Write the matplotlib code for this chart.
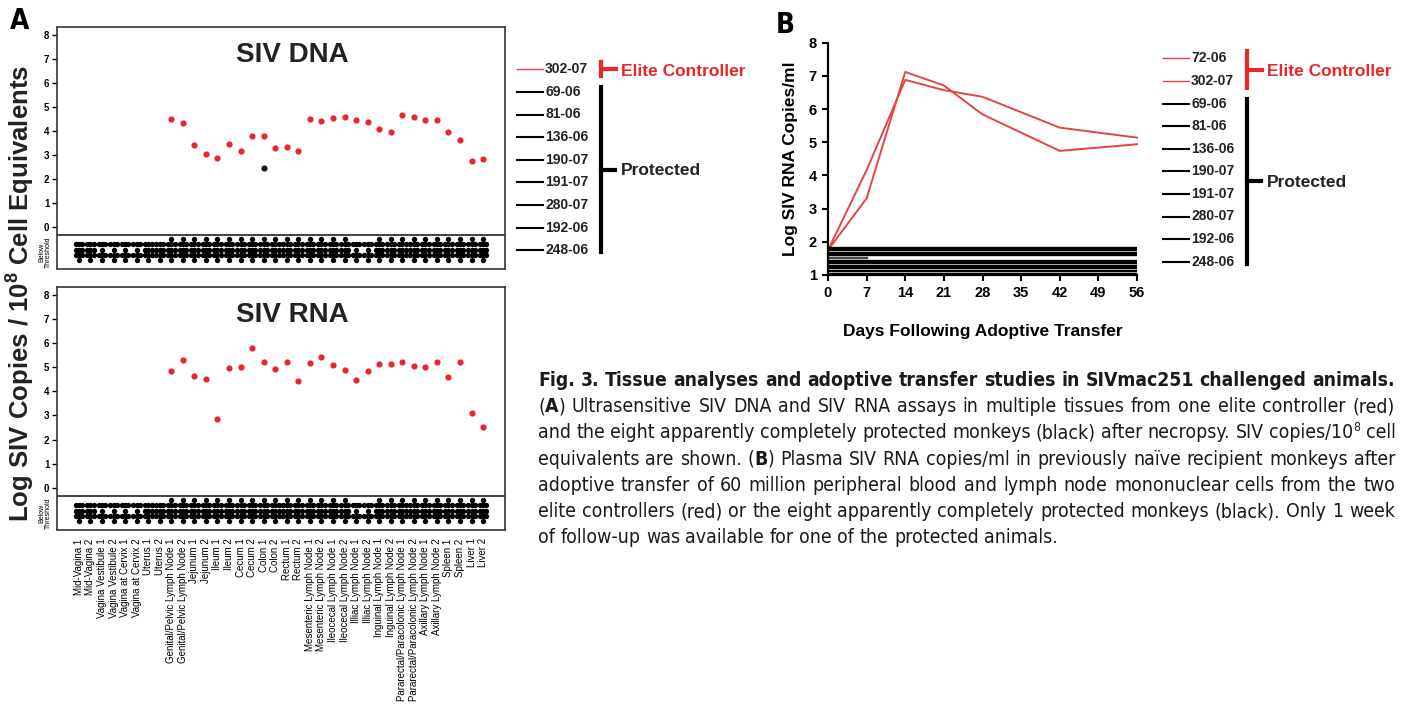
import numpy as np
import matplotlib
matplotlib.use("Agg")
import matplotlib.pyplot as plt
from matplotlib import font_manager
from matplotlib.lines import Line2D
from matplotlib.transforms import Affine2D

# ---- data -------------------------------------------------------------
tissues = ["Mid-Vagina 1", "Mid-Vagina 2", "Vagina Vestibule 1", "Vagina Vestibule 2",
           "Vagina at Cervix 1", "Vagina at Cervix 2", "Uterus 1", "Uterus 2",
           "Genital/Pelvic Lymph Node 1", "Genital/Pelvic Lymph Node 2",
           "Jejunum 1", "Jejunum 2", "Ileum 1", "Ileum 2", "Cecum 1", "Cecum 2",
           "Colon 1", "Colon 2", "Rectum 1", "Rectum 2",
           "Mesenteric Lymph Node 1", "Mesenteric Lymph Node 2",
           "Ileocecal Lymph Node 1", "Ileocecal Lymph Node 2",
           "Illiac Lymph Node 1", "Illiac Lymph Node 2",
           "Inguinal Lymph Node 1", "Inguinal Lymph Node 2",
           "Pararectal/Paracolonic Lymph Node 1", "Pararectal/Paracolonic Lymph Node 2",
           "Axillary Lymph Node 1", "Axillary Lymph Node 2",
           "Spleen 1", "Spleen 2", "Liver 1", "Liver 2"]

nan = np.nan
# elite controller 302-07 (red), NaN = below threshold
dna_elite = [nan] * 8 + [4.48, 4.35, 3.40, 3.04, 2.88, 3.44, 3.16, 3.81, 3.79, 3.29,
                         3.33, 3.18, 4.48, 4.41, 4.54, 4.59, 4.44, 4.37, 4.09, 3.95,
                         4.65, 4.58, 4.45, 4.44, 3.97, 3.62, 2.76, 2.82]
rna_elite = [nan] * 8 + [4.84, 5.31, 4.63, 4.52, 2.87, 4.97, 5.01, 5.81, 5.21, 4.94,
                         5.21, 4.45, 5.19, 5.44, 5.10, 4.90, 4.49, 4.84, 5.12, 5.13,
                         5.21, 5.06, 5.01, 5.21, 4.59, 5.20, 3.09, 2.52]
# protected animal positive in one tissue
dna_protected_tissue = ["Colon 1"]
dna_protected_value = [2.45]

# number of below-threshold samples plotted per tissue
dna_below = [10, 10, 8, 8, 8, 8, 10, 10] + [11] * 16 + [8, 8] + [11] * 10
rna_below = [10, 10, 8, 8, 8, 8, 10, 10] + [11] * 16 + [8, 8] + [11] * 10

legend_a = ["302-07", "69-06", "81-06", "136-06", "190-07", "191-07", "280-07", "192-06", "248-06"]
legend_b = ["72-06", "302-07", "69-06", "81-06", "136-06", "190-07", "191-07", "280-07", "192-06", "248-06"]

# panel B
days = [0, 7, 14, 21, 28, 42, 56]
elite_72_06 = [1.75, 4.16, 6.88, 6.57, 6.37, 5.44, 5.14]
elite_302_07 = [1.75, 3.31, 7.12, 6.71, 5.84, 4.74, 4.94]
protected_levels = [1.81, 1.74, 1.66, 1.59, 1.51, 1.43, 1.35, 1.27, 1.20, 1.11, 1.04]
protected_last_day = [56, 56, 56, 56, 7, 56, 56, 56, 56, 56, 56]

# caption lines: (text, style) pieces
caption = [
    [("Fig. 3. Tissue analyses and adoptive transfer studies in SIVmac251 challenged animals.", "bold")],
    [("(", "normal"), ("A", "bold"),
     (") Ultrasensitive SIV DNA and SIV RNA assays in multiple tissues from one elite controller (red)", "normal")],
    [("and the eight apparently completely protected monkeys (black) after necropsy. SIV copies/10", "normal"),
     ("8", "sup"), (" cell", "normal")],
    [("equivalents are shown. (", "normal"), ("B", "bold"),
     (") Plasma SIV RNA copies/ml in previously naïve recipient monkeys after", "normal")],
    [("adoptive transfer of 60 million peripheral blood and lymph node mononuclear cells from the two", "normal")],
    [("elite controllers (red) or the eight apparently completely protected monkeys (black). Only 1 week", "normal")],
    [("of follow-up was available for one of the protected animals.", "normal")],
]

# ---- style ------------------------------------------------------------
def pick_condensed():
    good = ("condensed", "semi-condensed", "extra-condensed")
    cands = [f for f in font_manager.fontManager.ttflist
             if "Narrow" in f.name or "Condensed" in f.name or str(f.stretch) in good]
    cands.sort(key=lambda f: (not f.name.startswith(("Liberation", "Roboto", "Open", "Noto", "DejaVu")), f.name))
    if cands:
        return cands[0].name, cands[0].stretch
    return "Liberation Sans", "normal"


CAP_FAMILY, CAP_STRETCH = pick_condensed()
plt.rcParams["font.family"] = ["Liberation Sans", "DejaVu Sans"]
plt.rcParams["mathtext.fontset"] = "custom"
plt.rcParams["mathtext.rm"] = "Liberation Sans"
plt.rcParams["mathtext.bf"] = "Liberation Sans:bold"

RED = "#e8262b"
LRED = "#e54444"
DARK = "#1a1a1a"

W, H = 1403, 704
fig = plt.figure(figsize=(W / 100, H / 100), dpi=100)
px = Affine2D().scale(1 / W, -1 / H).translate(0, 1) + fig.transFigure


def below_swarm(n):
    # fill order: bottom, lower row, upper row, centre, centre sides, top
    slots = [(0, 4), (-1, 3), (0, 3), (1, 3), (-1, 1), (0, 1), (1, 1),
             (0, 2), (-1, 2), (1, 2), (0, 0)]
    return slots[:n]


def tissue_panel(rect, title, elite, below, extra_x=(), extra_y=()):
    ax = fig.add_axes(rect)
    x = np.arange(1, len(tissues) + 1)
    ax.scatter(x, elite, s=20, color=RED, linewidths=0, zorder=3)
    if len(extra_x):
        ax.scatter(extra_x, extra_y, s=20, color=DARK, linewidths=0, zorder=3)
    bx, by = [], []
    for xi, n in zip(x, below):
        for dx, lv in below_swarm(n):
            bx.append(xi + dx * 0.29)
            by.append(-0.5 - 0.222 * lv)
    ax.scatter(bx, by, s=15, color="black", linewidths=0, zorder=3)
    ax.axhline(-0.32, color="#333333", lw=1.3)
    ax.set_xlim(-0.9, 37.9)
    ax.set_ylim(-1.75, 8.33)
    ax.set_yticks(range(9))
    ax.tick_params(axis="y", length=3.5, width=1, labelsize=7, pad=2)
    for lab in ax.get_yticklabels():
        lab.set_fontweight("bold")
    for s in ax.spines.values():
        s.set_linewidth(1.2)
        s.set_color("#333333")
    ax.text(0.525, 0.884, title, transform=ax.transAxes, fontsize=20,
            fontweight="bold", ha="center", va="center", color="#222222")
    ax.text(-0.027, 0.07, "Below\nThreshold", transform=ax.transAxes, rotation=90,
            fontsize=5, ha="center", va="center", linespacing=1.0)
    return ax


ax_dna = tissue_panel([57 / W, 1 - 269 / H, 448 / W, 242 / H], "SIV DNA", dna_elite, dna_below,
                      [tissues.index(t) + 1 for t in dna_protected_tissue], dna_protected_value)
ax_dna.set_xticks([])
ax_rna = tissue_panel([57 / W, 1 - 530 / H, 448 / W, 243 / H], "SIV RNA", rna_elite, rna_below)
ax_rna.set_xticks(np.arange(1, len(tissues) + 1), tissues, rotation=90, fontsize=7)
ax_rna.tick_params(axis="x", length=0, pad=6)

fig.text(20 / W, 1 - 293 / H, r"Log SIV Copies / 10$^{\mathbf{8}}$ Cell Equivalents",
         rotation=90, fontsize=18.5, fontweight="bold", ha="center", va="center", color="#222222")

# ---- panel B ------------------------------------------------------------
axb = fig.add_axes([828 / W, 1 - 275 / H, 309 / W, 232.3 / H])
axb.plot(days, elite_72_06, color=LRED, lw=1.4, clip_on=False)
axb.plot(days, elite_302_07, color=LRED, lw=1.4, clip_on=False)
for lv, last in zip(protected_levels, protected_last_day):
    axb.plot([0, last], [lv, lv], color="black" if last == 56 else "#444444", lw=1.7)
axb.set_xlim(0, 56)
axb.set_ylim(1, 8)
axb.set_xticks(range(0, 57, 7))
axb.set_yticks(range(1, 9))
axb.spines[["top", "right"]].set_visible(False)
axb.spines[["left", "bottom"]].set_linewidth(1.6)
axb.tick_params(direction="out", length=4, width=1.5, labelsize=10.5, pad=4)
for lab in axb.get_xticklabels() + axb.get_yticklabels():
    lab.set_fontweight("bold")
axb.set_xlabel("Days Following Adoptive Transfer", fontsize=12.5, fontweight="bold", labelpad=17)
axb.set_ylabel("Log SIV RNA Copies/ml", fontsize=12.5, fontweight="bold", labelpad=8)


# ---- legends ------------------------------------------------------------
def legend(names_, n_elite, x_line, y0, x_br):
    dy = 22.6
    ys = [y0 + i * dy for i in range(len(names_))]
    for i, (nm, y) in enumerate(zip(names_, ys)):
        col = LRED if i < n_elite else "black"
        fig.add_artist(Line2D([x_line, x_line + 26], [y, y], color=col,
                              lw=1.0 if i < n_elite else 1.5, transform=px))
        fig.text(x_line + 28, y, nm, transform=px, fontsize=10, fontweight="bold",
                 ha="left", va="center", color="#222222")
    e0, e1 = ys[0] - 7, ys[n_elite - 1] + 7
    em = (e0 + e1) / 2
    fig.add_artist(Line2D([x_br, x_br], [e0, e1], color=RED, lw=3, transform=px))
    fig.add_artist(Line2D([x_br, x_br + 15], [em, em], color=RED, lw=3, transform=px))
    fig.text(x_br + 20, em + 2, "Elite Controller", transform=px, fontsize=12.5,
             fontweight="bold", color=RED, ha="left", va="center")
    p0, p1 = ys[n_elite] - 5, ys[-1] + 2
    pm = (p0 + p1) / 2
    fig.add_artist(Line2D([x_br, x_br], [p0, p1], color="black", lw=3, transform=px))
    fig.add_artist(Line2D([x_br, x_br + 14], [pm, pm], color="black", lw=3, transform=px))
    fig.text(x_br + 20, pm + 1, "Protected", transform=px, fontsize=12.5,
             fontweight="bold", color="#222222", ha="left", va="center")


legend(legend_a, 1, 517, 69.3, 601)
legend(legend_b, 2, 1163, 58.3, 1247)

# panel letters
fig.text(20, 21, "A", transform=px, fontsize=20, fontweight="bold", family=CAP_FAMILY,
         fontstretch=CAP_STRETCH, ha="center", va="center")
fig.text(785, 25, "B", transform=px, fontsize=20, fontweight="bold", family=CAP_FAMILY,
         fontstretch=CAP_STRETCH, ha="center", va="center")


# ---- caption (justified) -------------------------------------------------
def draw_caption(lines, x0, y0, dy, width, base=17.0):
    r = fig.canvas.get_renderer()

    def kw(st, size):
        return dict(family=CAP_FAMILY, fontstretch=CAP_STRETCH, color="#1a1a1a",
                    fontweight="bold" if st == "bold" else "normal",
                    fontsize=size * 0.62 if st == "sup" else size)

    def measure(s, st, size):
        t = fig.text(0, 0, s, transform=px, **kw(st, size))
        w = t.get_window_extent(r).width
        t.remove()
        return w

    def words_of(segs):
        words = [[]]
        for txt, st in segs:
            for k, p in enumerate(txt.split(" ")):
                if k > 0:
                    words.append([])
                if p:
                    words[-1].append((p, st))
        return [w for w in words if w]

    def natural(segs, size):
        ws = words_of(segs)
        st0 = segs[0][1]
        sp = measure("a a", st0, size) - measure("aa", st0, size)
        return sum(measure(p, st, size) for w in ws for p, st in w) + sp * (len(ws) - 1)

    # heading line and body lines get their own size, each fitted to the width
    head = min(base, base * width / natural(lines[0], base))
    body = min(base, base * width / max(natural(seg, base) for seg in lines[1:-1]))
    for i, segs in enumerate(lines):
        size = head if i == 0 else body
        ws = words_of(segs)
        wlen = [[measure(p, st, size) for p, st in w] for w in ws]
        total = sum(sum(w) for w in wlen)
        st0 = segs[0][1]
        sp = measure("a a", st0, size) - measure("aa", st0, size)
        gap = (width - total) / (len(ws) - 1) if i < len(lines) - 1 else sp
        y = y0 + i * dy
        x = x0
        for w, wl in zip(ws, wlen):
            for (p, st), pw in zip(w, wl):
                yy = y - size * 0.55 if st == "sup" else y
                fig.text(x, yy, p, transform=px, ha="left", va="baseline", **kw(st, size))
                x += pw + (0.5 if st == "sup" else 0)
            x += gap


draw_caption(caption, 538, 386, 26.2, 857)

fig.savefig("out.png", dpi=100)
